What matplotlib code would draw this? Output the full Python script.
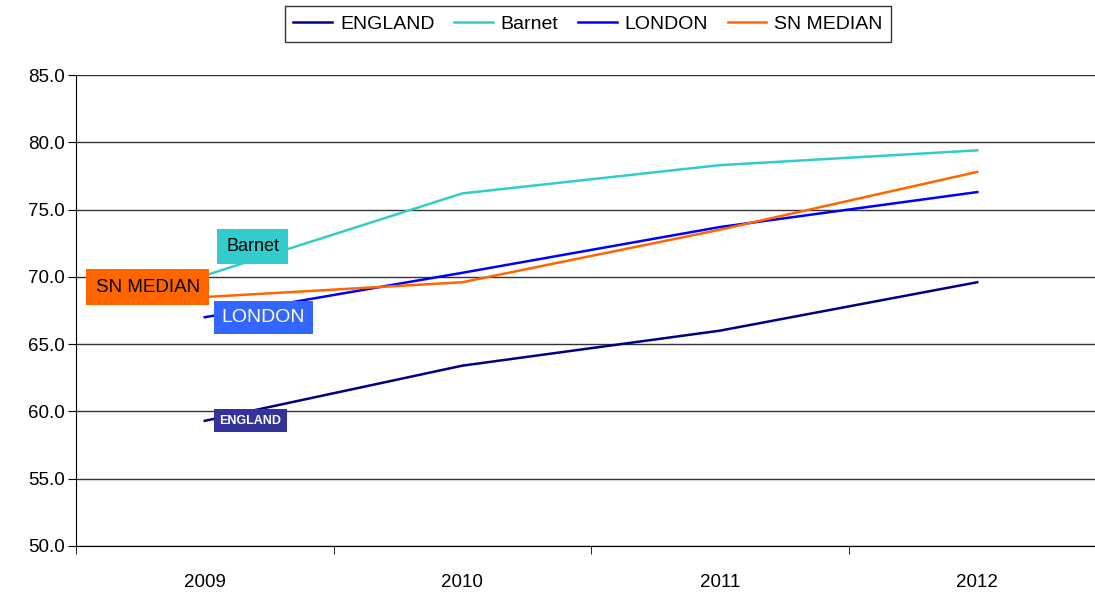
import matplotlib.pyplot as plt

plt.rcParams['font.family'] = ['Liberation Sans', 'DejaVu Sans']

years = ['2009', '2010', '2011', '2012']
england = [59.3, 63.4, 66.0, 69.6]
barnet = [70.1, 76.2, 78.3, 79.4]
london = [67.0, 70.3, 73.7, 76.3]
sn_median = [68.5, 69.6, 73.5, 77.8]

series = [
    ('ENGLAND', england, '#000080'),
    ('Barnet', barnet, '#33CCCC'),
    ('LONDON', london, '#0000FF'),
    ('SN MEDIAN', sn_median, '#FF6600'),
]

fig = plt.figure(figsize=(10.95, 5.92), dpi=100)
ax = fig.add_axes([76 / 1095, 46 / 592, 1030 / 1095, 471 / 592])

x = range(len(years))
for name, vals, col in series:
    ax.plot(x, vals, color=col, lw=1.8, label=name, zorder=3)

ax.set_ylim(50, 85)
ax.set_xlim(-0.5, 3.5)
ax.set_yticks([50 + 5 * i for i in range(8)])
ax.set_yticklabels(['%.1f' % (50 + 5 * i) for i in range(8)], fontsize=13.5)
ax.set_xticks(list(x))
ax.set_xticklabels(years, fontsize=13.5)
ax.tick_params(axis='x', length=0, pad=20)
ax.set_xticks([-0.5, 0.5, 1.5, 2.5, 3.5], minor=True)
ax.tick_params(axis='x', which='minor', length=6, direction='out', color='black')
ax.tick_params(axis='y', length=6, direction='out', color='black', pad=2)
ax.yaxis.grid(True, color='#333333', lw=1)
ax.set_axisbelow(True)
for s in ['top', 'right']:
    ax.spines[s].set_visible(False)
for s in ['left', 'bottom']:
    ax.spines[s].set_color('black')

# labels at the 2009 end of each line
ax.annotate('Barnet', xy=(0, barnet[0]), xytext=(34.5, 21), textcoords='offset points',
            ha='center', va='center', fontsize=13, color='black', zorder=5,
            bbox=dict(boxstyle='square,pad=0.5', fc='#33CCCC', ec='none'))
ax.annotate('SN MEDIAN', xy=(0, sn_median[0]), xytext=(-41, 7), textcoords='offset points',
            ha='center', va='center', fontsize=13.5, color='black', zorder=5,
            bbox=dict(boxstyle='square,pad=0.5', fc='#FF6600', ec='none'))
ax.annotate('LONDON', xy=(0, london[0]), xytext=(42, 0), textcoords='offset points',
            ha='center', va='center', fontsize=14, color='#FFFFDD', zorder=5,
            bbox=dict(boxstyle='square,pad=0.4', fc='#3366FF', ec='none'))
ax.annotate('ENGLAND', xy=(0, england[0]), xytext=(33, 0), textcoords='offset points',
            ha='center', va='center', fontsize=9, fontweight='bold', color='white', zorder=5,
            bbox=dict(boxstyle='square,pad=0.45', fc='#333399', ec='none'))

leg = fig.legend(loc='center', bbox_to_anchor=(588 / 1095, 1 - 24 / 592), ncol=4,
                 fontsize=14, frameon=True, fancybox=False, edgecolor='black',
                 handlelength=2.0, handletextpad=0.4, columnspacing=1.0,
                 borderpad=0.45)
leg.get_frame().set_linewidth(1.0)

plt.savefig('out.png', dpi=100)
